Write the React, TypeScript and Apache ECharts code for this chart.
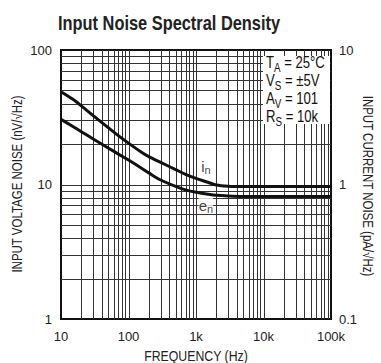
import React, { useEffect, useRef } from "react";
import * as echarts from "echarts";

const freqs = [10, 15, 20, 30, 50, 70, 100, 150, 200, 300, 500, 700, 1000, 1500, 2000, 3000, 5000, 10000, 100000];
const enValues = [30.5, 27.0, 24.7, 21.8, 18.7, 16.9, 15.2, 13.4, 12.2, 10.8, 9.67, 9.12, 8.75, 8.47, 8.31, 8.21, 8.15, 8.15, 8.15];
const inValues = [4.9, 4.3, 3.84, 3.25, 2.65, 2.32, 2.03, 1.76, 1.61, 1.46, 1.29, 1.19, 1.11, 1.04, 0.99, 0.97, 0.965, 0.965, 0.965];

const xTickValues = [10, 100, 1000, 10000, 100000];
const xTickLabels = ["10", "100", "1k", "10k", "100k"];
const leftTickValues = [1, 10, 100];
const leftTickLabels = ["1", "10", "100"];
const rightTickValues = [0.1, 1, 10];
const rightTickLabels = ["0.1", "1", "10"];

const xDecades = [10, 100, 1000, 10000];
const yDecades = [1, 10];
const mantissas = [1, 2, 3, 4, 5, 6, 7, 8, 9];

const FONT = '"Liberation Sans", Arial, sans-serif';
const NARROW = 0.82;

function lookup(values: number[], labels: string[], v: number) {
  for (let i = 0; i < values.length; i++) {
    if (Math.abs(Math.log10(v) - Math.log10(values[i])) < 1e-6) return labels[i];
  }
  return "";
}

export default function App() {
  const ref = useRef<HTMLDivElement>(null);
  useEffect(() => {
    document.body.style.margin = "0";
    if (!ref.current) return;
    const chart = echarts.init(ref.current, undefined, { renderer: "svg" });

    const gridData: number[][] = [];
    xDecades.forEach((d) => mantissas.forEach((m) => { if (m > 1) gridData.push([d * m, 1, 0]); }));
    [100, 1000, 10000].forEach((d) => gridData.push([d, 1, 0]));
    yDecades.forEach((d) => mantissas.forEach((m) => { if (m > 1) gridData.push([10, d * m, 1]); }));
    gridData.push([10, 10, 1]);

    const sub = {
      m: { fontFamily: FONT, fontSize: 16, color: "#111", lineHeight: 18 },
      s: { fontFamily: FONT, fontSize: 12, color: "#111", lineHeight: 18, padding: [9, 0, 0, 0] },
    };
    const subSmall = {
      m: { fontFamily: FONT, fontSize: 15, color: "#111", lineHeight: 16 },
      s: { fontFamily: FONT, fontSize: 11, color: "#111", lineHeight: 16, padding: [8, 0, 0, 0] },
    };

    const axisLabelBase = { fontFamily: FONT, fontSize: 13, color: "#222" };

    chart.setOption({
      animation: false,
      backgroundColor: "#fff",
      grid: {
        left: 61,
        right: 50,
        top: 50,
        bottom: 44,
        show: true,
        borderColor: "#111",
        borderWidth: 2,
        backgroundColor: "transparent",
      },
      xAxis: {
        type: "log",
        logBase: 10,
        min: 10,
        max: 100000,
        axisLine: { show: false },
        axisTick: { show: false },
        splitLine: { show: false },
        axisLabel: {
          ...axisLabelBase,
          margin: 11,
          showMinLabel: true,
          showMaxLabel: true,
          formatter: (v: number) => lookup(xTickValues, xTickLabels, v),
        },
      },
      yAxis: [
        {
          type: "log",
          logBase: 10,
          min: 1,
          max: 100,
          position: "left",
          axisLine: { show: false },
          axisTick: { show: false },
          splitLine: { show: false },
          axisLabel: {
            ...axisLabelBase,
            margin: 9,
            showMinLabel: true,
            showMaxLabel: true,
            formatter: (v: number) => lookup(leftTickValues, leftTickLabels, v),
          },
        },
        {
          type: "log",
          logBase: 10,
          min: 0.1,
          max: 10,
          position: "right",
          axisLine: { show: false },
          axisTick: { show: false },
          splitLine: { show: false },
          axisLabel: {
            ...axisLabelBase,
            margin: 8,
            showMinLabel: true,
            showMaxLabel: true,
            formatter: (v: number) => lookup(rightTickValues, rightTickLabels, v),
          },
        },
      ],
      graphic: [
        {
          type: "text",
          x: 58,
          y: 23,
          scaleX: NARROW,
          style: {
            text: "Input Noise Spectral Density",
            fontFamily: FONT,
            fontSize: 20,
            fontWeight: "bold",
            fill: "#222",
            align: "left",
            verticalAlign: "middle",
          },
        },
        {
          type: "text",
          x: 196,
          y: 356,
          scaleX: NARROW,
          style: {
            text: "FREQUENCY (Hz)",
            fontFamily: FONT,
            fontSize: 15,
            fill: "#222",
            align: "center",
            verticalAlign: "middle",
          },
        },
        {
          type: "text",
          x: 17,
          y: 184,
          rotation: Math.PI / 2,
          scaleX: NARROW,
          style: {
            text: "INPUT VOLTAGE NOISE (nV/√Hz)",
            fontFamily: FONT,
            fontSize: 14,
            fill: "#222",
            align: "center",
            verticalAlign: "middle",
          },
        },
        {
          type: "text",
          x: 368,
          y: 186,
          rotation: -Math.PI / 2,
          scaleX: NARROW,
          style: {
            text: "INPUT CURRENT NOISE (pA/√Hz)",
            fontFamily: FONT,
            fontSize: 14,
            fill: "#222",
            align: "center",
            verticalAlign: "middle",
          },
        },
        {
          type: "rect",
          z: 10,
          shape: { x: 263, y: 56, width: 67, height: 68 },
          style: { fill: "#fff" },
        },
        {
          type: "text",
          z: 11,
          x: 266,
          y: 54,
          scaleX: NARROW,
          style: {
            text: "{m|T}{s|A}{m| = 25°C}\n{m|V}{s|S}{m| = ±5V}\n{m|A}{s|V}{m| = 101}\n{m|R}{s|S}{m| = 10k}",
            rich: sub,
            fontFamily: FONT,
            fontSize: 16,
            fill: "#111",
          },
        },
      ],
      series: [
        {
          type: "custom",
          xAxisIndex: 0,
          yAxisIndex: 0,
          z: 1,
          silent: true,
          data: gridData,
          renderItem: (params: any, api: any) => {
            const o = api.value(2);
            let p1, p2;
            if (o === 0) {
              p1 = api.coord([api.value(0), 1]);
              p2 = api.coord([api.value(0), 100]);
            } else {
              p1 = api.coord([10, api.value(1)]);
              p2 = api.coord([100000, api.value(1)]);
            }
            const r = (n: number) => Math.round(n) + 0.5;
            return {
              type: "line",
              shape: o === 0
                ? { x1: r(p1[0]), y1: p1[1], x2: r(p2[0]), y2: p2[1] }
                : { x1: p1[0], y1: r(p1[1]), x2: p2[0], y2: r(p2[1]) },
              style: { stroke: "#333", lineWidth: 1 },
            };
          },
        },
        {
          name: "en",
          type: "line",
          xAxisIndex: 0,
          yAxisIndex: 0,
          z: 5,
          data: freqs.map((f, i) => [f, enValues[i]]),
          showSymbol: false,
          smooth: 0.3,
          lineStyle: { color: "#111", width: 3 },
        },
        {
          name: "in",
          type: "line",
          xAxisIndex: 0,
          yAxisIndex: 1,
          z: 5,
          data: freqs.map((f, i) => [f, inValues[i]]),
          showSymbol: false,
          smooth: 0.3,
          lineStyle: { color: "#111", width: 3 },
        },
        {
          type: "scatter",
          xAxisIndex: 0,
          yAxisIndex: 1,
          z: 6,
          symbolSize: 0,
          silent: true,
          data: [[1400, 1.37]],
          label: {
            show: true,
            position: "inside",
            formatter: "{m|i}{s|n}",
            rich: subSmall,
          },
        },
        {
          type: "scatter",
          xAxisIndex: 0,
          yAxisIndex: 0,
          z: 6,
          symbolSize: 0,
          silent: true,
          data: [[1400, 7.0]],
          label: {
            show: true,
            position: "inside",
            formatter: "{m|e}{s|n}",
            backgroundColor: "#fff",
            rich: subSmall,
          },
        },
      ],
    });
    return () => chart.dispose();
  }, []);
  return <div ref={ref} style={{ width: 381, height: 363 }} />;
}
